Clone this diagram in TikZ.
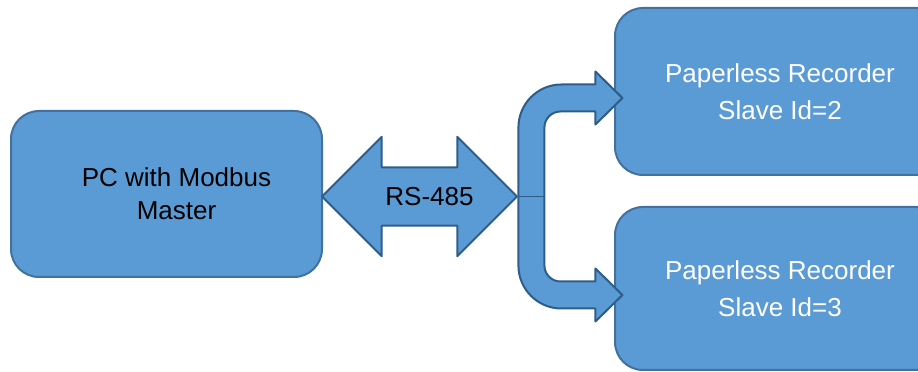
\documentclass[tikz,border=0pt]{standalone}
\usepackage{fontspec}
\setmainfont{Liberation Sans}
\usetikzlibrary{shapes.arrows}

\definecolor{boxblue}{HTML}{5B9BD5}
\definecolor{boxline}{HTML}{41719C}
\definecolor{arrowline}{HTML}{2E5D8A}

\newcommand{\txtnudge}{\hspace*{20pt}}

\begin{document}
\begin{tikzpicture}[
  x=1pt, y=1pt,
  every node/.style={font=\fontsize{26}{33}\selectfont, align=center},
  unit/.style={rectangle, rounded corners=28pt, draw=boxline, fill=boxblue, line width=2pt},
  slave/.style={unit, text=white, font=\fontsize{26}{37}\selectfont, minimum width=330pt},
  link/.style={draw=arrowline, fill=boxblue, line width=2pt, line join=round}
]
\useasboundingbox (0,0) rectangle (918,372);
\clip (0,0) rectangle (918,372);

\node (pc)   [unit, minimum width=311pt, minimum height=166pt] at (166.5,178) {\txtnudge PC with Modbus\\\txtnudge Master};
\node (rec2) [slave, minimum height=167pt] at (780,280.5) {Paperless Recorder\\Slave Id=2};
\node (rec3) [slave, minimum height=163pt] at (780,83.5) {Paperless Recorder\\Slave Id=3};

% bus between master and slaves
\node (rs) [link, double arrow, double arrow head extend=30.5pt,
            minimum height=195pt, minimum width=118pt,
            inner xsep=0pt, inner ysep=19pt] at (419.5,175.5) {\txtnudge RS-485};

% split to both recorders
\begin{scope}[shift={(rs.east)}]
\draw[link] (0,0) -- (0,69) arc[start angle=180, end angle=90, radius=43]
  -- (77,112) -- (77,125) -- (104,98.5) -- (77,72) -- (77,85) -- (42,85)
  arc[start angle=90, end angle=180, radius=16]
  -- (26,-69) arc[start angle=180, end angle=270, radius=16]
  -- (77,-85) -- (77,-72) -- (104,-98.5) -- (77,-125) -- (77,-112) -- (43,-112)
  arc[start angle=270, end angle=180, radius=43] -- cycle;
\draw[arrowline, line width=1.5pt] (0,0) -- (26,0);
\end{scope}

\end{tikzpicture}
\end{document}
